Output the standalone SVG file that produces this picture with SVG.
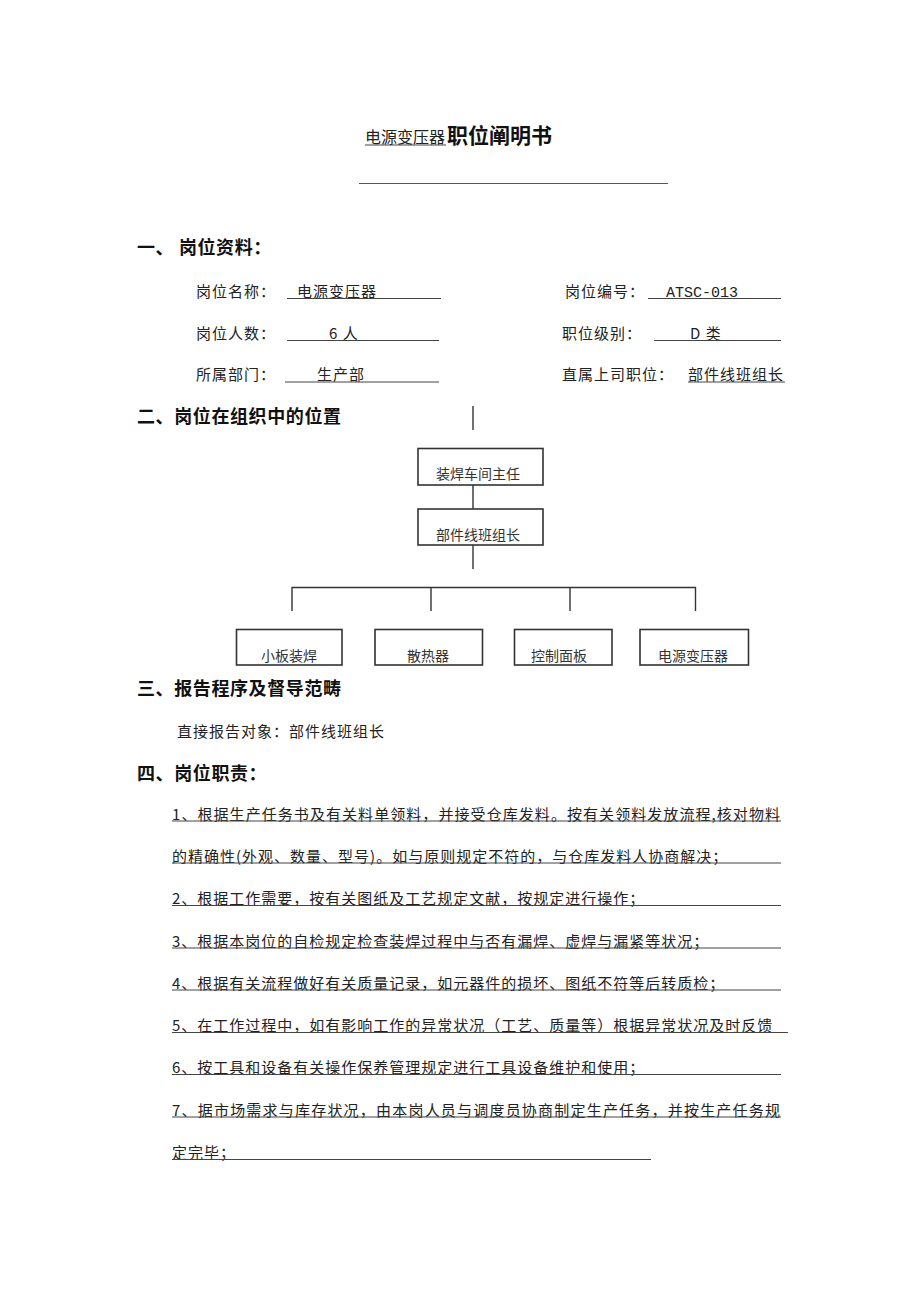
<svg xmlns="http://www.w3.org/2000/svg" width="920" height="1302" viewBox="0 0 920 1302">
<style>
.t{font-family:"Noto Sans CJK SC","Liberation Serif",sans-serif;font-size:15px;fill:#222;letter-spacing:1px}
.h{font-family:"Noto Sans CJK SC","Liberation Sans",sans-serif;font-size:18px;font-weight:bold;fill:#111;letter-spacing:0.6px}
.b{font-family:"Noto Sans CJK SC","Liberation Sans",sans-serif;font-size:14px;fill:#333;text-anchor:middle}
.m{font-family:"Liberation Mono",monospace;font-size:15px;fill:#222}
.u{stroke:#444;stroke-width:1;fill:none}
.box{fill:#fff;stroke:#333;stroke-width:1.6}
.c{stroke:#333;stroke-width:1.4;fill:none}
</style>
<rect width="920" height="1302" fill="#fff"/>

<g id="title">
<text class="t" x="365" y="143" style="font-size:16px;letter-spacing:0">电源变压器</text>
<line class="u" x1="365" y1="145" x2="446" y2="145"/>
<text class="h" x="447" y="143" style="font-size:21px;letter-spacing:0">职位阐明书</text>
<line x1="359" y1="183.5" x2="668" y2="183.5" stroke="#555" stroke-width="1.2"/>
</g>

<g id="section1">
<text class="h" x="137" y="254">一、 岗位资料：</text>
<text class="t" x="196" y="297">岗位名称：</text>
<text class="t" x="297" y="297">电源变压器</text>
<line class="u" x1="287" y1="298.5" x2="441" y2="298.5"/>
<text class="t" x="196" y="339">岗位人数：</text>
<text class="t" x="329" y="339">6 人</text>
<line class="u" x1="287" y1="340.5" x2="439" y2="340.5"/>
<text class="t" x="196" y="380">所属部门：</text>
<text class="t" x="317" y="380">生产部</text>
<line class="u" x1="285" y1="382" x2="439" y2="382"/>
<text class="t" x="565" y="297">岗位编号：</text>
<text class="m" x="666" y="297">ATSC-013</text>
<line class="u" x1="648" y1="298.5" x2="781" y2="298.5"/>
<text class="t" x="562" y="339">职位级别：</text>
<text class="t" x="690" y="339">D 类</text>
<line class="u" x1="654" y1="340.5" x2="781" y2="340.5"/>
<text class="t" x="562" y="380">直属上司职位：</text>
<text class="t" x="688" y="380">部件线班组长</text>
<line class="u" x1="688" y1="382" x2="785" y2="382"/>
</g>

<g id="section2">
<text class="h" x="137" y="423">二、岗位在组织中的位置</text>
</g>

<g id="connectors">
<line class="c" x1="473" y1="406" x2="473" y2="430"/>
<line class="c" x1="473" y1="485" x2="473" y2="509"/>
<line class="c" x1="473" y1="545" x2="473" y2="569"/>
<polyline class="c" points="292,611 292,587.5 695.5,587.5 695.5,611"/>
<line class="c" x1="431" y1="587.5" x2="431" y2="611"/>
<line class="c" x1="570" y1="587.5" x2="570" y2="611"/>
</g>

<g id="node-zhuren">
<rect class="box" x="418" y="448.5" width="125" height="36.5"/>
<text class="b" x="478" y="479">装焊车间主任</text>
</g>
<g id="node-zuzhang">
<rect class="box" x="418" y="509" width="125" height="36"/>
<text class="b" x="478" y="540">部件线班组长</text>
</g>
<g id="node-xiaoban">
<rect class="box" x="236.5" y="629.5" width="105.5" height="35.5"/>
<text class="b" x="289" y="661">小板装焊</text>
</g>
<g id="node-sanre">
<rect class="box" x="375" y="629.5" width="107.5" height="35.5"/>
<text class="b" x="428" y="661">散热器</text>
</g>
<g id="node-kongzhi">
<rect class="box" x="514.5" y="629.5" width="97.5" height="35.5"/>
<text class="b" x="559" y="661">控制面板</text>
</g>
<g id="node-dianyuan">
<rect class="box" x="640" y="629.5" width="108.5" height="35.5"/>
<text class="b" x="693" y="661">电源变压器</text>
</g>

<g id="section3">
<text class="h" x="137" y="695">三、报告程序及督导范畴</text>
<text class="t" x="177" y="737">直接报告对象：部件线班组长</text>
</g>

<g id="section4">
<text class="h" x="137" y="780">四、岗位职责：</text>
<text class="t" x="172" y="819.5" textLength="609" lengthAdjust="spacing">1、根据生产任务书及有关料单领料，并接受仓库发料。按有关领料发放流程,核对物料</text>
<line class="u" x1="172" y1="821" x2="781" y2="821"/>
<text class="t" x="172" y="861.5">的精确性(外观、数量、型号)。如与原则规定不符的，与仓库发料人协商解决；</text>
<line class="u" x1="172" y1="863" x2="781" y2="863"/>
<text class="t" x="172" y="904">2、根据工作需要，按有关图纸及工艺规定文献，按规定进行操作；</text>
<line class="u" x1="172" y1="905.5" x2="781" y2="905.5"/>
<text class="t" x="172" y="946.5">3、根据本岗位的自检规定检查装焊过程中与否有漏焊、虚焊与漏紧等状况；</text>
<line class="u" x1="172" y1="948" x2="781" y2="948"/>
<text class="t" x="172" y="988.5">4、根据有关流程做好有关质量记录，如元器件的损坏、图纸不符等后转质检；</text>
<line class="u" x1="172" y1="990" x2="781" y2="990"/>
<text class="t" x="172" y="1031">5、在工作过程中，如有影响工作的异常状况（工艺、质量等）根据异常状况及时反馈</text>
<line class="u" x1="172" y1="1032.5" x2="788" y2="1032.5"/>
<text class="t" x="172" y="1073">6、按工具和设备有关操作保养管理规定进行工具设备维护和使用；</text>
<line class="u" x1="172" y1="1074.5" x2="781" y2="1074.5"/>
<text class="t" x="172" y="1115.5" textLength="609" lengthAdjust="spacing">7、据市场需求与库存状况，由本岗人员与调度员协商制定生产任务，并按生产任务规</text>
<line class="u" x1="172" y1="1117" x2="781" y2="1117"/>
<text class="t" x="172" y="1158">定完毕；</text>
<line class="u" x1="172" y1="1159.5" x2="651" y2="1159.5"/>
</g>
</svg>
